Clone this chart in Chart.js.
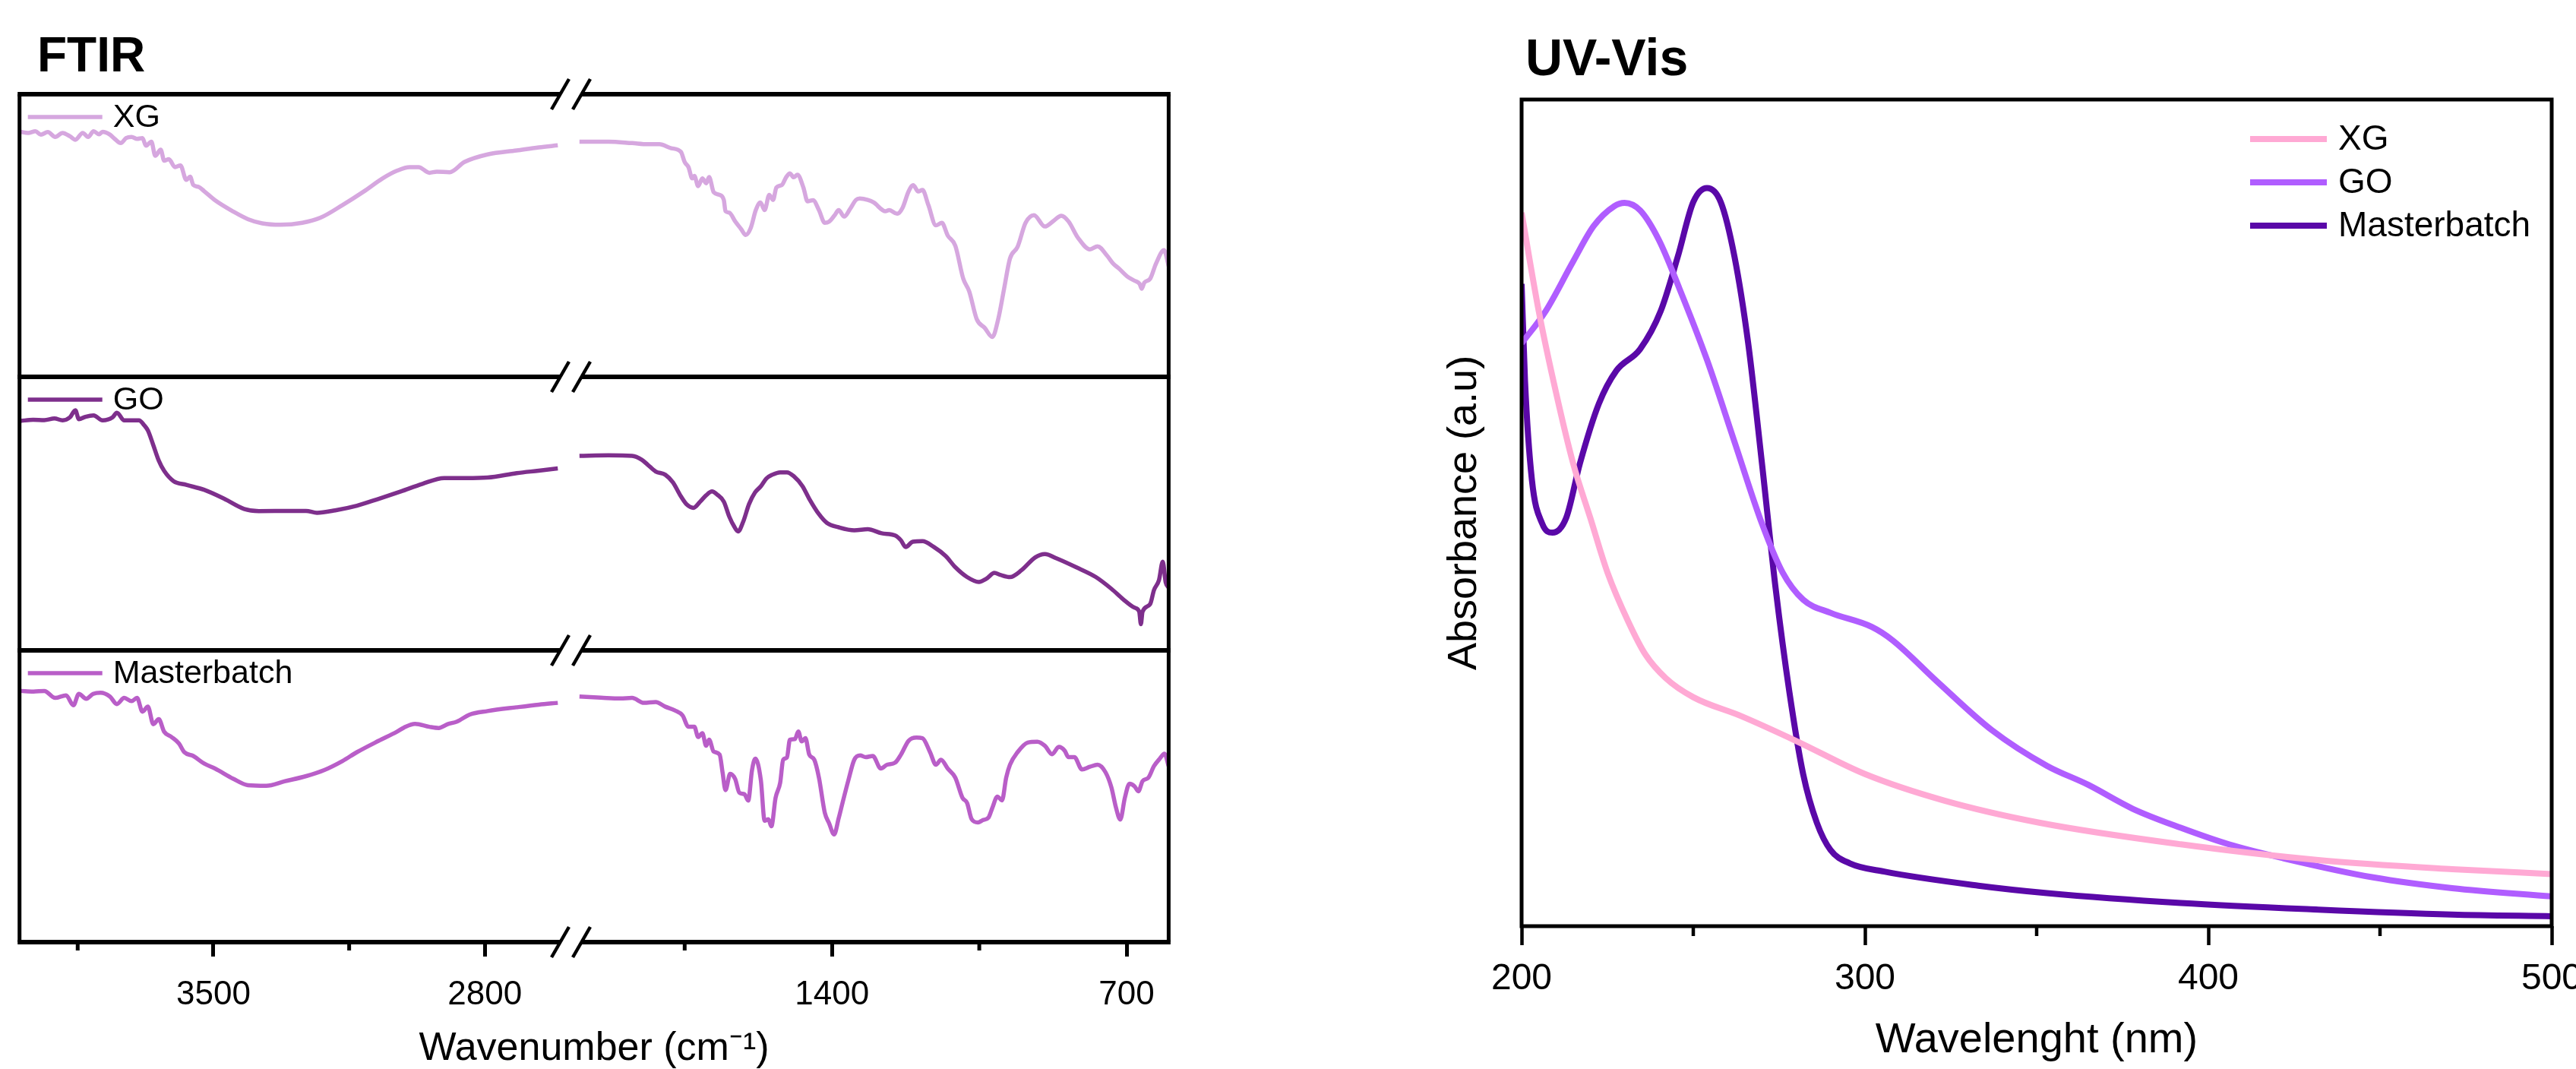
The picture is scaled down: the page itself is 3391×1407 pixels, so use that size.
<!DOCTYPE html>
<html>
<head>
<meta charset="utf-8">
<script src="https://cdn.jsdelivr.net/npm/chart.js@4.4.1/dist/chart.umd.min.js"></script>
<style>
  html, body { margin: 0; padding: 0; background: #fff; overflow: hidden; width: 3391px; height: 1407px; }
  canvas { position: absolute; top: 0; }
  #ftir { left: 0; }
  #uv { left: 1700px; }
</style>
</head>
<body>
<canvas id="ftir" width="1650" height="1407"></canvas>
<canvas id="uv" width="1760" height="1407"></canvas>
<script>
// ---- FTIR data: [wavenumber (cm-1), transmittance (% of panel height)] ----
var xgFtir = [
  [3997,86.7],[3978,86.3],[3959,86.9],[3945,85.7],[3927,86.6],[3908,84.9],[3889,86.3],[3870,85.1],[3856,83.9],[3837,86.3],
  [3823,84.9],[3809,86.9],[3795,85.8],[3786,86.7],[3767,85.7],[3753,84.0],[3739,82.7],[3725,84.5],[3711,84.9],[3697,84.2],
  [3683,84.5],[3674,81.8],[3660,83.2],[3650,78.2],[3636,80.4],[3627,76.5],[3615,77.0],[3599,74.2],[3585,74.8],[3570,69.7],
  [3560,70.8],[3552,67.9],[3538,67.2],[3524,65.7],[3496,62.5],[3449,58.5],[3411,55.8],[3374,54.3],[3327,53.8],[3271,54.5],
  [3224,56.3],[3167,60.8],[3111,65.7],[3064,70.2],[3027,72.9],[2994,74.2],[2971,74.2],[2943,72.2],[2924,72.6],[2891,72.4],
  [2853,76.0],[2793,78.7],[2718,80.1],[2661,81.2],[2612,81.9],
  [2000,83.2],[1931,83.2],[1875,82.7],[1838,82.3],[1810,82.3],[1782,80.9],[1759,79.6],[1750,76.0],[1741,74.2],[1732,70.2],
  [1727,71.1],[1718,67.5],[1708,70.2],[1699,68.5],[1692,70.7],[1681,65.3],[1667,64.4],[1657,62.6],[1653,58.6],[1644,58.1],
  [1630,55.0],[1616,52.3],[1605,50.2],[1593,52.7],[1581,59.0],[1570,61.7],[1560,59.0],[1549,64.4],[1540,62.6],[1532,67.0],
  [1519,67.9],[1509,70.6],[1500,72.0],[1491,70.6],[1482,71.5],[1468,67.0],[1458,62.1],[1445,62.5],[1431,59.0],[1417,54.5],
  [1407,54.9],[1394,57.1],[1384,59.0],[1371,56.7],[1357,59.4],[1343,62.6],[1334,63.1],[1315,62.6],[1301,61.7],[1273,58.6],
  [1264,59.0],[1245,57.7],[1232,59.9],[1218,65.6],[1207,67.8],[1195,65.6],[1185,66.1],[1171,60.8],[1153,53.6],[1139,54.5],
  [1125,50.0],[1107,46.4],[1088,34.7],[1074,30.3],[1056,20.4],[1037,17.3],[1019,14.1],[1005,20.4],[991,31.2],[977,41.9],
  [959,46.0],[940,54.5],[920,57.2],[894,53.2],[875,55.0],[855,57.0],[838,55.0],[815,49.1],[787,45.1],[769,46.2],
  [746,42.8],[732,40.1],[718,38.3],[699,35.6],[681,34.0],[669,32.9],[664,31.2],[658,33.3],[644,34.7],[630,40.1],
  [611,44.8],[600,39.2]
];
var goFtir = [
  [3997,83.9],[3965,84.3],[3936,84.2],[3910,84.8],[3889,84.1],[3870,85.2],[3856,87.8],[3847,84.5],[3830,85.4],[3809,85.9],
  [3786,84.1],[3760,85.2],[3749,86.9],[3730,84.1],[3692,84.1],[3678,82.2],[3669,80.4],[3655,75.0],[3641,69.4],[3627,65.6],
  [3603,61.9],[3570,60.5],[3524,58.7],[3472,55.4],[3421,51.7],[3383,50.9],[3299,51.0],[3261,51.0],[3233,50.3],[3186,51.2],
  [3130,52.9],[3074,55.4],[3017,58.1],[2961,60.9],[2905,63.0],[2849,63.0],[2793,63.2],[2718,64.8],[2661,65.7],[2612,66.5],
  [2000,71.1],[1931,71.3],[1875,71.1],[1852,69.7],[1838,67.9],[1819,65.4],[1796,64.2],[1778,61.4],[1759,56.3],[1745,53.3],
  [1729,52.1],[1713,54.4],[1699,56.7],[1685,58.1],[1673,57.0],[1657,54.4],[1644,48.9],[1632,45.2],[1623,43.5],[1611,47.0],
  [1597,53.5],[1583,57.7],[1569,60.0],[1556,62.8],[1542,64.2],[1523,65.1],[1507,65.1],[1491,63.7],[1470,60.0],[1454,55.4],
  [1431,49.8],[1412,46.6],[1384,45.0],[1347,43.9],[1315,44.3],[1282,42.8],[1250,42.0],[1236,40.2],[1225,37.8],[1208,39.7],
  [1185,39.9],[1158,37.8],[1130,34.5],[1107,30.4],[1079,26.8],[1051,25.0],[1033,26.2],[1014,28.3],[1000,27.6],[977,26.8],
  [949,29.4],[917,34.0],[894,35.2],[866,33.6],[820,30.4],[773,26.8],[736,22.5],[709,18.8],[681,15.6],[670,14.2],
  [666,9.6],[662,14.2],[644,16.9],[635,22.0],[623,25.7],[614,32.4],[607,24.8],[600,22.9]
];
var mbFtir = [
  [3997,86.1],[3964,85.9],[3936,86.1],[3908,83.7],[3880,84.6],[3861,81.2],[3847,85.1],[3828,83.4],[3810,85.1],[3791,85.5],
  [3767,84.2],[3749,81.6],[3730,83.7],[3711,82.6],[3697,83.7],[3683,79.0],[3669,80.7],[3655,74.7],[3641,76.4],[3627,72.1],
  [3608,70.3],[3589,68.1],[3575,65.1],[3552,63.8],[3524,61.2],[3496,59.5],[3449,56.0],[3411,53.8],[3364,53.6],[3317,55.1],
  [3261,56.9],[3214,59.0],[3167,62.1],[3130,65.1],[3074,69.0],[3027,72.1],[3008,73.6],[2980,74.8],[2943,73.8],[2919,73.4],
  [2896,74.7],[2872,75.6],[2839,78.0],[2793,79.2],[2718,80.5],[2661,81.4],[2612,82.0],
  [2000,84.2],[1949,83.8],[1903,83.5],[1875,83.7],[1847,82.0],[1819,82.3],[1796,80.7],[1773,79.4],[1755,77.7],[1741,73.8],
  [1727,73.8],[1718,70.3],[1708,71.6],[1699,67.3],[1692,69.4],[1681,65.3],[1667,64.3],[1660,58.2],[1653,52.1],[1642,57.7],
  [1630,55.9],[1620,51.2],[1608,50.7],[1599,48.5],[1590,59.0],[1582,62.9],[1569,55.5],[1560,41.6],[1551,42.1],[1544,39.7],
  [1534,49.5],[1523,54.7],[1516,62.5],[1507,63.3],[1500,69.4],[1488,69.6],[1480,72.2],[1472,68.8],[1463,69.9],[1454,64.3],
  [1442,62.5],[1431,56.4],[1417,44.3],[1407,40.8],[1395,36.9],[1384,42.5],[1375,47.7],[1361,55.5],[1347,62.5],[1333,64.0],
  [1320,63.4],[1303,63.8],[1284,59.5],[1269,60.8],[1250,61.5],[1236,64.3],[1218,69.0],[1199,70.1],[1185,69.9],[1167,65.1],
  [1153,60.8],[1141,62.5],[1125,59.5],[1107,56.4],[1090,49.5],[1079,47.7],[1068,42.1],[1053,41.0],[1042,41.8],[1028,42.7],
  [1019,46.0],[1007,49.9],[996,48.6],[986,56.4],[977,60.8],[959,65.1],[935,68.4],[912,68.7],[894,67.3],[877,64.4],
  [861,66.9],[847,65.6],[838,63.4],[824,63.4],[806,59.2],[787,60.1],[769,60.8],[750,58.2],[736,53.0],[725,46.0],
  [715,42.0],[704,49.5],[693,54.3],[681,53.4],[672,51.7],[662,55.2],[648,56.4],[635,60.3],[621,62.9],[610,64.6],
  [600,60.3]
];
var ftirLabels = ['XG', 'GO', 'Masterbatch'];
var ftirTickWn = [3850, 3500, 3150, 2800, 1750, 1400, 1050, 700];
var ftirMajorWn = [3500, 2800, 1400, 700];

// ---- UV-Vis data: [wavelength (nm), absorbance (% of axis)] ----
var xgUv = [
  [200,86.3],[205,74.4],[210,64.6],[215,56.0],[220,49.4],[225,42.8],[231,36.9],[236,32.9],[242,30.0],[250,27.7],
  [264,25.4],[280,22.4],[300,18.4],[323,15.2],[351,12.5],[392,9.9],[432,8.0],[471,6.9],[500,6.3]
];
var goUv = [
  [200,70.5],[207,74.4],[215,80.4],[221,84.7],[227,87.1],[230,87.5],[234.5,86.6],[240,83.0],[246,77.1],[254,68.5],
  [262,58.6],[270,48.7],[276,42.8],[282,39.5],[290,37.9],[302,36.2],[308,34.6],[321,29.6],[337,23.7],[353,19.4],
  [365,17.1],[378,14.2],[392,11.9],[406,9.9],[422,8.2],[448,5.9],[471,4.6],[500,3.6]
];
var mbUv = [
  [200,77.7],[201,65.9],[203,54.0],[206,48.7],[209,47.6],[213,49.4],[217,56.0],[222.5,63.2],[227.6,67.2],[234.5,69.8],
  [240.5,74.4],[245.5,81.0],[250,87.6],[254,89.3],[258,87.6],[262,81.0],[266,70.5],[270,56.0],[274,40.8],[278,28.3],
  [282,18.4],[286,12.5],[290,9.2],[295.6,7.6],[305.6,6.6],[333,4.9],[353,4.0],[392,2.8],[432,2.0],[471,1.4],[500,1.2]
];
var uvLabels = ['XG', 'GO', 'Masterbatch'];
var uvTickNm = [200, 250, 300, 350, 400, 450, 500];

// ---- styling / layout ----
var FONT = '"Liberation Sans", Arial, sans-serif';
Chart.defaults.font.family = FONT;
Chart.defaults.color = '#000';

var ftirColors = ['#d6a7df', '#7e2f8c', '#b95ec8'];
var uvColors = ['#ffa9d4', '#b05dff', '#5a08a8'];
var panelSpan = [372, 360, 384]; // XG, GO, Masterbatch (top to bottom)
var PANEL_TOTAL = panelSpan[0] + panelSpan[1] + panelSpan[2];

// broken wavenumber axis: 4000-2575 then 2000-600
function ftirU(wn) {
  return wn > 2300 ? (4000 - wn) * 0.5105 : 737.1 + (2000 - wn) * 0.554;
}
var BREAK_U = 725.8;

function panelBase(i) {
  var b = 0;
  for (var k = i + 1; k < panelSpan.length; k++) b += panelSpan[k];
  return b;
}

function ftirPoints(rows, i) {
  var base = panelBase(i), span = panelSpan[i], pts = [];
  rows.forEach(function(r, k) {
    if (k > 0 && rows[k - 1][0] > 2300 && r[0] <= 2300) pts.push({x: BREAK_U, y: null});
    pts.push({x: ftirU(r[0]), y: base + r[1] / 100 * span});
  });
  return pts;
}

var ftirDecor = {
  id: 'ftirDecor',
  afterDraw: function(chart) {
    var ctx = chart.ctx, ca = chart.chartArea, sx = chart.scales.x, sy = chart.scales.y;
    var rows = [ca.top, sy.getPixelForValue(panelBase(0)), sy.getPixelForValue(panelBase(1)), ca.bottom];
    ctx.save();
    ctx.strokeStyle = '#000';
    ctx.lineWidth = 5;
    ctx.beginPath();
    ctx.moveTo(ca.left, ca.top); ctx.lineTo(ca.left, ca.bottom);
    ctx.moveTo(ca.right, ca.top); ctx.lineTo(ca.right, ca.bottom);
    ctx.stroke();
    ctx.lineWidth = 6;
    rows.forEach(function(y) {
      ctx.beginPath(); ctx.moveTo(ca.left - 2.5, y); ctx.lineTo(ca.right + 2.5, y); ctx.stroke();
    });
    // minor ticks
    ctx.lineWidth = 5;
    ftirTickWn.forEach(function(w) {
      if (ftirMajorWn.indexOf(w) >= 0) return;
      var px = sx.getPixelForValue(ftirU(w));
      ctx.beginPath(); ctx.moveTo(px, ca.bottom); ctx.lineTo(px, ca.bottom + 11); ctx.stroke();
    });
    // axis break marks
    var bx = sx.getPixelForValue(BREAK_U);
    rows.forEach(function(y) {
      ctx.fillStyle = '#fff';
      ctx.beginPath();
      ctx.moveTo(bx - 16.6, y + 5); ctx.lineTo(bx - 11.4, y - 5);
      ctx.lineTo(bx + 16.6, y - 5); ctx.lineTo(bx + 11.4, y + 5);
      ctx.closePath(); ctx.fill();
      ctx.lineWidth = 4.5;
      [-14, 14].forEach(function(d) {
        ctx.beginPath(); ctx.moveTo(bx + d - 11.5, y + 20); ctx.lineTo(bx + d + 11.5, y - 20); ctx.stroke();
      });
    });
    // panel legends
    ctx.font = '43px ' + FONT;
    ctx.textBaseline = 'middle';
    ctx.textAlign = 'left';
    ftirLabels.forEach(function(lab, i) {
      var ly = rows[i] + 30;
      ctx.strokeStyle = ftirColors[i];
      ctx.lineWidth = 5.5;
      ctx.beginPath(); ctx.moveTo(ca.left + 11, ly); ctx.lineTo(ca.left + 109, ly); ctx.stroke();
      ctx.fillStyle = '#000';
      ctx.fillText(lab, ca.left + 123, ly + 1);
    });
    ctx.font = 'bold 64px ' + FONT;
    ctx.textBaseline = 'alphabetic';
    ctx.fillText('FTIR', 49, 94);
    ctx.restore();
  }
};

new Chart(document.getElementById('ftir').getContext('2d'), {
  type: 'line',
  data: {
    datasets: [xgFtir, goFtir, mbFtir].map(function(rows, i) {
      return {
        label: ftirLabels[i],
        data: ftirPoints(rows, i),
        borderColor: ftirColors[i],
        borderWidth: 5.5,
        pointRadius: 0,
        cubicInterpolationMode: 'monotone',
        borderJoinStyle: 'round',
        spanGaps: false
      };
    })
  },
  options: {
    responsive: false,
    animation: false,
    devicePixelRatio: 1,
    layout: { padding: { left: 25.7, top: 124, right: 111.6, bottom: 0 } },
    plugins: { legend: { display: false }, tooltip: { enabled: false } },
    scales: {
      x: {
        type: 'linear',
        min: 0,
        max: ftirU(600),
        afterBuildTicks: function(s) { s.ticks = ftirTickWn.map(function(w) { return {value: ftirU(w)}; }); },
        afterFit: function(s) { s.height = 167; },
        border: { display: false },
        grid: {
          drawOnChartArea: false,
          tickLength: 19,
          tickWidth: 5,
          tickColor: function(c) { return ftirMajorWn.indexOf(ftirTickWn[c.index]) >= 0 ? '#000' : 'rgba(0,0,0,0)'; }
        },
        ticks: {
          autoSkip: false,
          maxRotation: 0,
          padding: 24,
          font: { size: 44 },
          callback: function(v, i) { return ftirMajorWn.indexOf(ftirTickWn[i]) >= 0 ? String(ftirTickWn[i]) : ''; }
        },
        title: { display: true, text: 'Wavenumber (cm\u207B\u00B9)', font: { size: 52, lineHeight: 1 }, padding: { top: 0, bottom: 0 } }
      },
      y: { type: 'linear', min: 0, max: PANEL_TOTAL, display: false }
    }
  },
  plugins: [ftirDecor]
});

var uvDecor = {
  id: 'uvDecor',
  afterDraw: function(chart) {
    var ctx = chart.ctx, ca = chart.chartArea, sx = chart.scales.x;
    ctx.save();
    ctx.strokeStyle = '#000';
    ctx.lineWidth = 5;
    ctx.strokeRect(ca.left, ca.top, ca.right - ca.left, ca.bottom - ca.top);
    ctx.lineWidth = 4.5;
    uvTickNm.forEach(function(v) {
      if (v % 100 === 0) return;
      var px = sx.getPixelForValue(v);
      ctx.beginPath(); ctx.moveTo(px, ca.bottom); ctx.lineTo(px, ca.bottom + 13); ctx.stroke();
    });
    ctx.font = '46px ' + FONT;
    ctx.textBaseline = 'middle';
    ctx.textAlign = 'left';
    uvLabels.forEach(function(lab, i) {
      var ly = ca.top + 52 + i * 57;
      ctx.strokeStyle = uvColors[i];
      ctx.lineWidth = 8;
      ctx.beginPath(); ctx.moveTo(ca.right - 397, ly); ctx.lineTo(ca.right - 296, ly); ctx.stroke();
      ctx.fillStyle = '#000';
      ctx.fillText(lab, ca.right - 281, ly + 1);
    });
    ctx.font = 'bold 68px ' + FONT;
    ctx.textBaseline = 'alphabetic';
    ctx.fillText('UV-Vis', 308, 99);
    ctx.restore();
  }
};

new Chart(document.getElementById('uv').getContext('2d'), {
  type: 'line',
  data: {
    datasets: [xgUv, goUv, mbUv].map(function(rows, i) {
      return {
        label: uvLabels[i],
        data: rows.map(function(r) { return {x: r[0], y: r[1]}; }),
        borderColor: uvColors[i],
        borderWidth: 8,
        pointRadius: 0,
        cubicInterpolationMode: 'monotone',
        borderJoinStyle: 'round'
      };
    })
  },
  options: {
    responsive: false,
    animation: false,
    devicePixelRatio: 1,
    layout: { padding: { left: 0, top: 131, right: 101, bottom: 0 } },
    plugins: { legend: { display: false }, tooltip: { enabled: false } },
    scales: {
      x: {
        type: 'linear',
        min: 200,
        max: 500,
        afterBuildTicks: function(s) { s.ticks = uvTickNm.map(function(v) { return {value: v}; }); },
        afterFit: function(s) { s.height = 188; },
        border: { display: false },
        grid: {
          drawOnChartArea: false,
          tickLength: 25,
          tickWidth: 4.5,
          tickColor: function(c) { return uvTickNm[c.index] % 100 === 0 ? '#000' : 'rgba(0,0,0,0)'; }
        },
        ticks: {
          autoSkip: false,
          maxRotation: 0,
          padding: 16,
          font: { size: 48 },
          callback: function(v, i) { return uvTickNm[i] % 100 === 0 ? String(uvTickNm[i]) : ''; }
        },
        title: { display: true, text: 'Wavelenght (nm)', font: { size: 56 }, padding: { top: 0, bottom: 4 } }
      },
      y: {
        type: 'linear',
        min: 0,
        max: 100,
        afterFit: function(s) { s.width = 303; },
        border: { display: false },
        grid: { display: false, drawTicks: false },
        ticks: { display: false },
        title: { display: true, text: 'Absorbance (a.u)', font: { size: 54 }, padding: { top: 196, bottom: 0 } }
      }
    }
  },
  plugins: [uvDecor]
});
</script>
</body>
</html>
